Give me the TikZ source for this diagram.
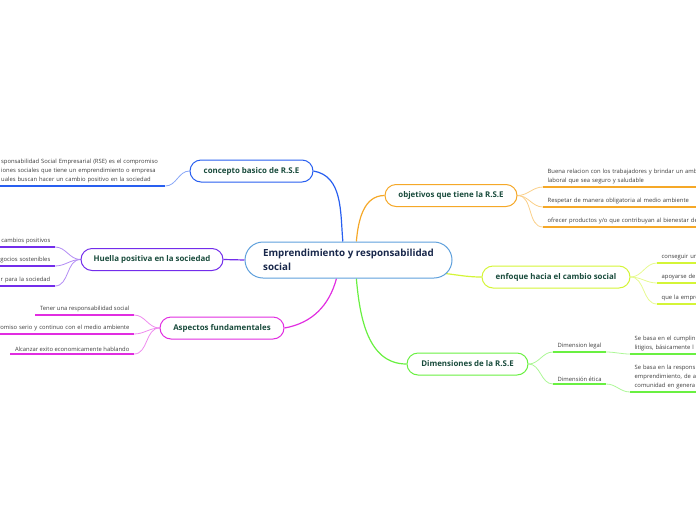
\documentclass[tikz,border=0pt]{standalone}
\usepackage{fontspec}
\setmainfont{Open Sans}
\usetikzlibrary{positioning,backgrounds}

\definecolor{rootline}{RGB}{95,160,220}
\definecolor{roottext}{RGB}{25,40,75}
\definecolor{topictext}{RGB}{25,75,60}
\definecolor{leaftext}{RGB}{60,60,60}
\definecolor{cblue}{RGB}{40,95,240}
\definecolor{cpurple}{RGB}{115,45,235}
\definecolor{cmagenta}{RGB}{225,45,225}
\definecolor{corange}{RGB}{245,168,40}
\definecolor{clime}{RGB}{212,245,55}
\definecolor{cgreen}{RGB}{105,240,65}

\tikzset{
  root/.style={draw=rootline,line width=1pt,fill=white,rounded corners=18pt,
    minimum width=207pt,minimum height=36pt,align=left,
    font=\fontsize{9.8}{13.5}\selectfont\bfseries,text=roottext},
  topic/.style={draw=#1,line width=1pt,fill=white,rounded corners=11pt,
    minimum height=22pt,font=\fontsize{7.9}{9}\selectfont\bfseries,text=topictext},
  leaf/.style={font=\fontsize{5.85}{9}\selectfont,text=leaftext,
    inner xsep=4.5pt,inner ysep=2.5pt},
  leafR/.style={leaf,anchor=south west,align=left},
  leafL/.style={leaf,anchor=south east,align=right},
  branch/.style={draw=#1,line width=1.2pt},
  twig/.style={draw=#1!55,line width=0.8pt},
  uline/.style={draw=#1,line width=1.8pt}
}

\begin{document}
\begin{tikzpicture}[x=1pt,y=-1pt]
  \useasboundingbox (0,0) rectangle (696,520);
  \clip (0,0) rectangle (696,520);

  % centre
  \node[root] (cen) at (348.5,260) {Emprendimiento y responsabilidad\\social};
  \coordinate (cenSE) at (440,273);

  % main topics
  \node[topic=cblue,minimum width=123pt] (concepto) at (251.5,171) {concepto basico de R.S.E};
  \node[topic=cpurple,minimum width=142pt] (huella) at (152,259.5) {Huella positiva en la sociedad};
  \node[topic=cmagenta,minimum width=124pt] (aspectos) at (222,328) {Aspectos fundamentales};
  \node[topic=corange,minimum width=132pt] (objetivos) at (451,195.5) {objetivos que tiene la R.S.E};
  \node[topic=clime,minimum width=148pt] (enfoque) at (556,277) {enfoque hacia el cambio social};
  \node[topic=cgreen,minimum width=121pt] (dimensiones) at (467.5,364) {Dimensiones de la R.S.E};

  % left leaves
  \node[leafR,text width=163pt,inner xsep=1pt] (c1) at (0,186)
    {sponsabilidad Social Empresarial (RSE) es el compromiso\\iones sociales que tiene un emprendimiento o empresa\\uales buscan hacer un cambio positivo en la sociedad};
  \node[leafL,text width=200pt] (h1) at (55,247) {cambios positivos};
  \node[leafL,text width=200pt] (h2) at (55,266) {gocios sostenibles};
  \node[leafL,text width=200pt] (h3) at (55,286) {r para la sociedad};
  \node[leafL] (a1) at (134,315) {Tener una responsabilidad social};
  \node[leafL,text width=200pt] (a2) at (134,334) {romiso serio y continuo con el medio ambiente};
  \node[leafL] (a3) at (134,354) {Alcanzar exito economicamente hablando};

  % right leaves
  \node[leafR,text width=200pt] (o1) at (543,187)
    {Buena relacion con los trabajadores y brindar un amb\\laboral que sea seguro y saludable};
  \node[leafR,text width=200pt] (o2) at (543,207) {Respetar de manera obligatoria al medio ambiente};
  \node[leafR,text width=200pt] (o3) at (543,227) {ofrecer productos y/o que contribuyan al bienestar de};
  \node[leafR,text width=100pt] (e1) at (657,263) {conseguir un};
  \node[leafR,text width=100pt] (e2) at (657,283) {apoyarse de};
  \node[leafR,text width=100pt] (e3) at (657,304) {que la empre};
  \node[leafR] (d1) at (553,352) {Dimension legal};
  \node[leafR] (d2) at (553,384) {Dimensión ética};
  \node[leafR,text width=100pt] (dd1) at (630,354) {Se basa en el cumplin\\litigios, básicamente l};
  \node[leafR,text width=100pt] (dd2) at (630,392) {Se basa en la respons\\emprendimiento, de a\\comunidad en genera};

  % underlines
  \foreach \n/\c in {c1/cblue,h1/cpurple,h2/cpurple,h3/cpurple,
      a1/cmagenta,a2/cmagenta,a3/cmagenta,o1/corange,o2/corange,o3/corange,
      e1/clime,e2/clime,e3/clime,d1/cgreen,d2/cgreen,dd1/cgreen,dd2/cgreen}
    \draw[uline=\c] (\n.south west) -- (\n.south east);

  % connectors
  \begin{scope}[on background layer]
    \draw[branch=cblue] (concepto.east) to[out=-10,in=95] (cen.107);
    \draw[branch=corange] (cen.67) to[out=85,in=180] (objetivos.west);
    \draw[branch=cpurple] (huella.east) -- (cen.west);
    \draw[branch=clime] (cenSE) to[out=-5,in=180] (enfoque.west);
    \draw[branch=cmagenta] (aspectos.east) to[out=10,in=-105] (cen.237);
    \draw[branch=cgreen] (cen.293) to[out=-85,in=180] (dimensiones.west);

    \draw[twig=cblue] (concepto.west) to[out=180,in=0] (c1.south east);
    \foreach \n in {h1,h2,h3}
      \draw[twig=cpurple] (huella.west) to[out=180,in=0] (\n.south east);
    \foreach \n in {a1,a2,a3}
      \draw[twig=cmagenta] (aspectos.west) to[out=180,in=0] (\n.south east);
    \foreach \n in {o1,o2,o3}
      \draw[twig=corange] (objetivos.east) to[out=0,in=180] (\n.south west);
    \foreach \n in {e1,e2,e3}
      \draw[twig=clime] (enfoque.east) to[out=0,in=180] (\n.south west);
    \foreach \n in {d1,d2}
      \draw[twig=cgreen] (dimensiones.east) to[out=0,in=180] (\n.south west);
    \draw[twig=cgreen] (d1.south east) to[out=0,in=180] (dd1.south west);
    \draw[twig=cgreen] (d2.south east) to[out=0,in=180] (dd2.south west);
  \end{scope}
\end{tikzpicture}
\end{document}
